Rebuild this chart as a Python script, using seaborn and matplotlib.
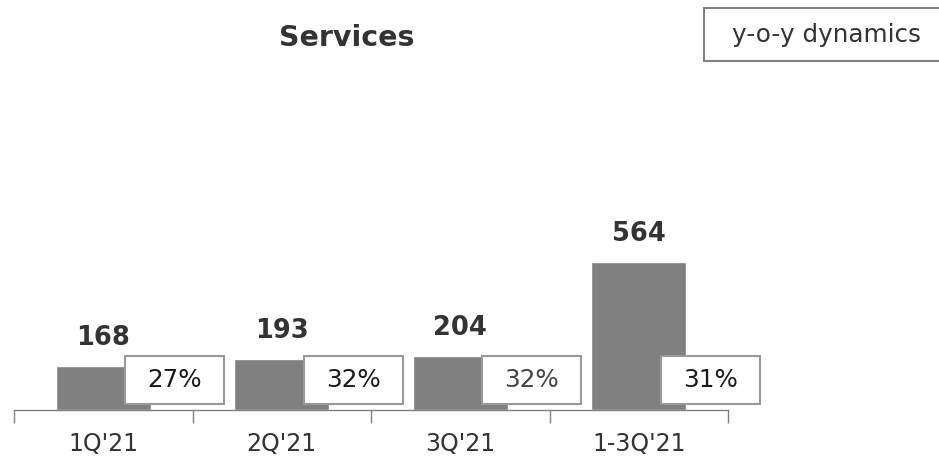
import matplotlib
matplotlib.use("Agg")
import matplotlib.pyplot as plt
from matplotlib.patches import Rectangle
import seaborn as sns
import pandas as pd

# Revenue from services by period, with year-over-year growth
periods = ["1Q'21", "2Q'21", "3Q'21", "1-3Q'21"]
revenue = [168, 193, 204, 564]
yoy_growth = [27, 32, 32, 31]

sns.set_theme(style="white")
plt.rcParams["font.family"] = ["DejaVu Sans"]

df = pd.DataFrame({"period": periods, "revenue": revenue})

fig = plt.figure(figsize=(9.39, 4.62), dpi=100)
ax = fig.add_axes([14 / 939, 52 / 462, 714 / 939, 315 / 462])

sns.barplot(data=df, x="period", y="revenue", color="#808080",
            saturation=1, width=0.53, ax=ax)

ax.set_xlim(-0.5, len(periods) - 0.5)
ax.set_ylim(0, 1200)
ax.set_xlabel("")
ax.set_ylabel("")
ax.set_yticks([])

for side in ["top", "left", "right"]:
    ax.spines[side].set_visible(False)
ax.spines["bottom"].set_color("#808080")
ax.spines["bottom"].set_linewidth(1.0)

# category labels on major ticks, separators as minor ticks
ax.tick_params(axis="x", which="major", length=0, pad=16,
               labelsize=17, labelcolor="#333333")
ax.set_xticks([i - 0.5 for i in range(len(periods) + 1)], minor=True)
ax.tick_params(axis="x", which="minor", length=9, width=1.0,
               color="#808080", direction="out", bottom=True)

# value labels above bars
for i, v in enumerate(revenue):
    ax.annotate(f"{v}", xy=(i, v), xytext=(0, 11), textcoords="offset points",
                ha="center", va="bottom", fontsize=18.5, fontweight="bold",
                color="#333333")

# growth boxes at the lower right of each bar
pct_colors = ["#1a1a1a", "#1a1a1a", "#444444", "#1a1a1a"]
box_w, box_h, box_y = 0.555, 183, 23
for i, g in enumerate(yoy_growth):
    cx = i + 0.40
    ax.add_patch(Rectangle((cx - box_w / 2, box_y), box_w, box_h,
                           facecolor="white", edgecolor="#999999",
                           linewidth=1.5, zorder=3, clip_on=False))
    ax.text(cx, box_y + box_h / 2, f"{g}%", ha="center", va="center",
            fontsize=17.7, color=pct_colors[i], zorder=4)

# title and legend-style box running off the right edge
fig.text(347 / 939, 1 - 38 / 462, "Services", ha="center", va="center",
         fontsize=20.5, fontweight="bold", color="#333333")
fig.patches.append(Rectangle((704 / 939, 1 - 61 / 462), 260 / 939, 53 / 462,
                             transform=fig.transFigure, facecolor="white",
                             edgecolor="#808080", linewidth=1.5))
fig.text(826 / 939, 1 - 35 / 462, "y-o-y dynamics", ha="center", va="center",
         fontsize=17.7, color="#333333")

fig.savefig("out.png", dpi=100)
